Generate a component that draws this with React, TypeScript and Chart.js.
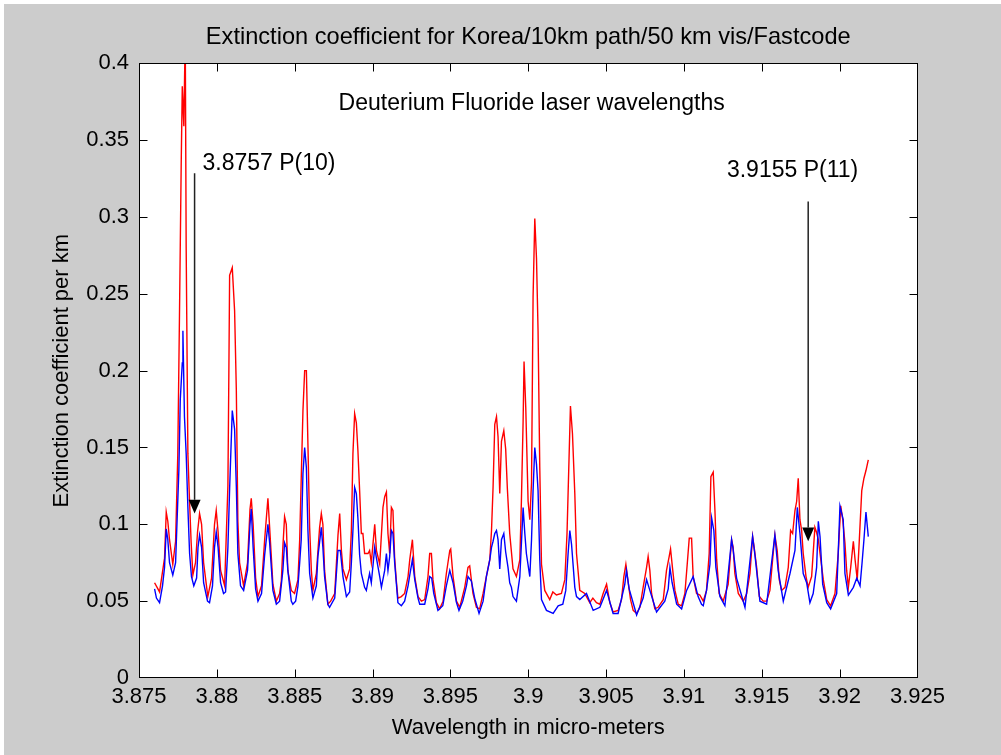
import React, { useEffect, useRef } from "react";
import { Chart, registerables } from "chart.js";

Chart.register(...registerables);

// ---- Data (wavelength in micro-meters, extinction coefficient per km) ----
const redWavelength = [
  3.876, 3.87632, 3.87664, 3.87675, 3.87685, 3.87696, 3.87717, 3.87735, 3.87749, 3.8776,
  3.87771, 3.87778, 3.87788, 3.87797, 3.87803, 3.87814, 3.87825, 3.87835, 3.87846, 3.87863,
  3.87876, 3.87889, 3.87902, 3.87915, 3.87942, 3.87966, 3.87985, 3.87996, 3.88008, 3.88024,
  3.8805, 3.88071, 3.88077, 3.88082, 3.88099, 3.88114, 3.88125, 3.88135, 3.88146, 3.88172,
  3.88197, 3.88213, 3.88221, 3.88233, 3.88249, 3.88264, 3.88287, 3.88307, 3.88328, 3.88339,
  3.8836, 3.88382, 3.88403, 3.88414, 3.88424, 3.88435, 3.88446, 3.88456, 3.88478, 3.88499,
  3.88521, 3.88532, 3.88542, 3.88553, 3.88564, 3.88575, 3.88585, 3.88596, 3.88607, 3.88617,
  3.88639, 3.8866, 3.88671, 3.88681, 3.88692, 3.88713, 3.88731, 3.88757, 3.88778, 3.88789,
  3.888, 3.8881, 3.88832, 3.88853, 3.88864, 3.88874, 3.88885, 3.88896, 3.88906, 3.88917,
  3.88928, 3.88938, 3.88949, 3.88971, 3.88981, 3.88992, 3.89014, 3.89025, 3.89046, 3.89067,
  3.89078, 3.89089, 3.89099, 3.8911, 3.89121, 3.89131, 3.89142, 3.89153, 3.89163, 3.89185,
  3.89206, 3.89228, 3.89239, 3.89256, 3.89271, 3.89292, 3.89314, 3.89335, 3.89356, 3.89367,
  3.89378, 3.89388, 3.8941, 3.89431, 3.89453, 3.89474, 3.89496, 3.89502, 3.89517, 3.89539,
  3.8956, 3.89592, 3.89613, 3.89624, 3.89645, 3.89667, 3.89688, 3.8971, 3.89731, 3.89753,
  3.89764, 3.89774, 3.89785, 3.89796, 3.89806, 3.89817, 3.89828, 3.89843, 3.89855, 3.89866,
  3.89881, 3.89902, 3.89924, 3.89946, 3.89956, 3.89967, 3.89973, 3.89984, 3.89999, 3.9001,
  3.90021, 3.90031, 3.90042, 3.90053, 3.90063, 3.90074, 3.90085, 3.90106, 3.90138, 3.90158,
  3.90181, 3.90213, 3.90235, 3.90249, 3.90262, 3.90271, 3.90284, 3.90299, 3.9031, 3.90331,
  3.90363, 3.90395, 3.90415, 3.90438, 3.9046, 3.90481, 3.90503, 3.90524, 3.90545, 3.90577,
  3.90599, 3.90614, 3.90627, 3.90642, 3.90657, 3.90674, 3.90696, 3.90717, 3.90738, 3.9076,
  3.9077, 3.90781, 3.90792, 3.90813, 3.90834, 3.90867, 3.90888, 3.90905, 3.90914, 3.90926,
  3.90942, 3.90963, 3.90985, 3.91006, 3.91021, 3.91034, 3.91049, 3.91059, 3.91081, 3.91102,
  3.91124, 3.91145, 3.91162, 3.91173, 3.91188, 3.91199, 3.9121, 3.91226, 3.91252, 3.91284,
  3.91306, 3.91316, 3.91327, 3.91349, 3.91381, 3.91403, 3.91424, 3.91441, 3.91451, 3.91467,
  3.91484, 3.91509, 3.91531, 3.91552, 3.91573, 3.91584, 3.91599, 3.91612, 3.91627, 3.91649,
  3.9167, 3.91685, 3.91698, 3.91713, 3.91724, 3.91734, 3.91745, 3.91756, 3.91766, 3.91784,
  3.91798, 3.9182, 3.91841, 3.91851, 3.91863, 3.91874, 3.91895, 3.91917, 3.91942, 3.9197,
  3.91991, 3.92007, 3.9202, 3.92034, 3.92045, 3.92056, 3.92071, 3.92088, 3.92099, 3.92113,
  3.92124, 3.92142, 3.92156, 3.92169, 3.92184,
];
const redExtinction = [
  0.062, 0.056, 0.078, 0.108, 0.102, 0.09, 0.074, 0.089, 0.145, 0.236,
  0.334, 0.385, 0.359, 0.42, 0.28, 0.146, 0.114, 0.088, 0.067, 0.075,
  0.095, 0.107, 0.1, 0.075, 0.053, 0.065, 0.1, 0.109, 0.095, 0.07,
  0.06, 0.125, 0.197, 0.262, 0.267, 0.239, 0.188, 0.102, 0.075, 0.06,
  0.075, 0.11, 0.117, 0.1, 0.065, 0.053, 0.06, 0.09, 0.117, 0.098,
  0.061, 0.05, 0.055, 0.063, 0.085, 0.105, 0.1, 0.07, 0.057, 0.055,
  0.064, 0.09, 0.13, 0.174, 0.2, 0.2, 0.152, 0.098, 0.07, 0.057,
  0.068, 0.098, 0.107, 0.1, 0.07, 0.048, 0.05, 0.055, 0.093, 0.107,
  0.083, 0.071, 0.064, 0.071, 0.096, 0.146, 0.172, 0.166, 0.148, 0.122,
  0.094, 0.094, 0.081, 0.081, 0.083, 0.075, 0.1, 0.083, 0.074, 0.111,
  0.118, 0.121, 0.094, 0.081, 0.111, 0.109, 0.078, 0.063, 0.052, 0.053,
  0.055, 0.066, 0.077, 0.09, 0.066, 0.053, 0.05, 0.051, 0.066, 0.081,
  0.081, 0.064, 0.049, 0.045, 0.05, 0.068, 0.083, 0.084, 0.066, 0.05,
  0.046, 0.059, 0.072, 0.073, 0.055, 0.046, 0.045, 0.055, 0.066, 0.077,
  0.096, 0.124, 0.165, 0.17, 0.157, 0.12, 0.154, 0.161, 0.149, 0.123,
  0.094, 0.071, 0.066, 0.077, 0.115, 0.167, 0.206, 0.176, 0.115, 0.103,
  0.127, 0.248, 0.299, 0.273, 0.226, 0.137, 0.074, 0.057, 0.051, 0.056,
  0.054, 0.055, 0.064, 0.094, 0.143, 0.177, 0.159, 0.12, 0.081, 0.057,
  0.055, 0.049, 0.052, 0.049, 0.048, 0.055, 0.061, 0.049, 0.043, 0.044,
  0.051, 0.066, 0.074, 0.062, 0.051, 0.044, 0.042, 0.046, 0.059, 0.072,
  0.079, 0.07, 0.055, 0.045, 0.046, 0.051, 0.07, 0.079, 0.084, 0.072,
  0.057, 0.048, 0.047, 0.055, 0.074, 0.091, 0.091, 0.066, 0.055, 0.054,
  0.05, 0.057, 0.081, 0.131, 0.134, 0.109, 0.077, 0.055, 0.05, 0.061,
  0.09, 0.085, 0.068, 0.055, 0.05, 0.055, 0.068, 0.092, 0.085, 0.072,
  0.053, 0.05, 0.05, 0.057, 0.081, 0.093, 0.083, 0.064, 0.057, 0.059,
  0.072, 0.096, 0.094, 0.109, 0.115, 0.13, 0.103, 0.096, 0.081, 0.066,
  0.059, 0.066, 0.098, 0.095, 0.09, 0.081, 0.064, 0.051, 0.047, 0.055,
  0.081, 0.112, 0.103, 0.088, 0.07, 0.059, 0.072, 0.089, 0.077, 0.064,
  0.085, 0.122, 0.13, 0.135, 0.142,
];

const blueWavelength = [
  3.876, 3.87612, 3.87632, 3.87651, 3.87664, 3.87675, 3.87685, 3.87696, 3.87717, 3.87735,
  3.87756, 3.87765, 3.87778, 3.87782, 3.87792, 3.87803, 3.87814, 3.87825, 3.87837, 3.87852,
  3.8787, 3.87879, 3.87889, 3.87902, 3.87915, 3.8794, 3.87953, 3.87972, 3.87985, 3.87996,
  3.88008, 3.88024, 3.88043, 3.88056, 3.88071, 3.88082, 3.88099, 3.88114, 3.88125, 3.88135,
  3.88152, 3.88172, 3.88197, 3.88213, 3.88221, 3.88233, 3.88249, 3.88264, 3.88287, 3.88307,
  3.88328, 3.88339, 3.8836, 3.88382, 3.88403, 3.88424, 3.88435, 3.88446, 3.88456, 3.88478,
  3.88488, 3.88506, 3.88521, 3.88532, 3.88542, 3.88553, 3.88564, 3.88575, 3.88585, 3.88596,
  3.88617, 3.88639, 3.88649, 3.88671, 3.88681, 3.88692, 3.88713, 3.88724, 3.88757, 3.88778,
  3.88793, 3.8881, 3.88832, 3.88853, 3.88864, 3.88874, 3.88885, 3.88896, 3.88906, 3.88917,
  3.88928, 3.88949, 3.8896, 3.88971, 3.88981, 3.88992, 3.89014, 3.89025, 3.89046, 3.89057,
  3.89078, 3.89089, 3.89099, 3.8911, 3.89121, 3.89131, 3.89142, 3.89163, 3.89185, 3.89206,
  3.89228, 3.89239, 3.89256, 3.89271, 3.89292, 3.89303, 3.89335, 3.89356, 3.89367, 3.8938,
  3.89393, 3.8942, 3.89451, 3.89474, 3.89496, 3.89517, 3.89539, 3.89555, 3.89579, 3.89603,
  3.89613, 3.89635, 3.89656, 3.89684, 3.8971, 3.89731, 3.89753, 3.89764, 3.89774, 3.89785,
  3.89796, 3.89806, 3.89817, 3.89828, 3.89843, 3.89855, 3.8987, 3.89881, 3.89892, 3.89902,
  3.89924, 3.89946, 3.89967, 3.89978, 3.89988, 3.9001, 3.90021, 3.90031, 3.90042, 3.90053,
  3.90063, 3.90074, 3.90085, 3.90117, 3.9016, 3.90192, 3.90222, 3.90241, 3.90256, 3.90267,
  3.90278, 3.90299, 3.9031, 3.90331, 3.90374, 3.90417, 3.9046, 3.90503, 3.90545, 3.90577,
  3.9062, 3.90631, 3.90648, 3.90696, 3.90738, 3.9076, 3.90781, 3.90824, 3.90877, 3.90899,
  3.9091, 3.90924, 3.90953, 3.90985, 3.91017, 3.91059, 3.91091, 3.91113, 3.91124, 3.91145,
  3.91167, 3.91178, 3.91192, 3.91205, 3.91231, 3.91263, 3.91306, 3.91314, 3.91338, 3.91392,
  3.91441, 3.91456, 3.91488, 3.91531, 3.91584, 3.91605, 3.91638, 3.91681, 3.91713, 3.91728,
  3.91745, 3.91766, 3.91788, 3.91809, 3.9183, 3.91852, 3.91863, 3.91874, 3.91891, 3.91917,
  3.91942, 3.91981, 3.92002, 3.92023, 3.92034, 3.92056, 3.92088, 3.9211, 3.92131, 3.92144,
  3.92156, 3.92169, 3.92184,
];
const blueExtinction = [
  0.058, 0.052, 0.049, 0.06, 0.072, 0.097, 0.09, 0.075, 0.067, 0.075,
  0.135, 0.181, 0.205, 0.226, 0.17, 0.146, 0.111, 0.081, 0.066, 0.06,
  0.065, 0.085, 0.093, 0.085, 0.062, 0.05, 0.049, 0.06, 0.085, 0.095,
  0.085, 0.062, 0.055, 0.056, 0.085, 0.123, 0.174, 0.162, 0.125, 0.081,
  0.06, 0.057, 0.07, 0.1, 0.11, 0.085, 0.058, 0.05, 0.055, 0.08,
  0.1, 0.088, 0.057, 0.048, 0.05, 0.07, 0.088, 0.085, 0.07, 0.05,
  0.048, 0.05, 0.06, 0.075, 0.09, 0.133, 0.15, 0.137, 0.096, 0.068,
  0.052, 0.06, 0.079, 0.098, 0.085, 0.066, 0.048, 0.046, 0.052, 0.083,
  0.083, 0.066, 0.053, 0.056, 0.075, 0.096, 0.124, 0.12, 0.104, 0.08,
  0.068, 0.059, 0.057, 0.063, 0.068, 0.062, 0.085, 0.078, 0.066, 0.059,
  0.07, 0.081, 0.07, 0.079, 0.096, 0.094, 0.075, 0.049, 0.047, 0.05,
  0.06, 0.067, 0.077, 0.064, 0.052, 0.048, 0.048, 0.058, 0.066, 0.065,
  0.055, 0.044, 0.047, 0.06, 0.07, 0.062, 0.049, 0.044, 0.05, 0.06,
  0.066, 0.063, 0.052, 0.042, 0.05, 0.066, 0.077, 0.085, 0.089, 0.094,
  0.096, 0.09, 0.071, 0.09, 0.094, 0.082, 0.072, 0.062, 0.059, 0.053,
  0.05, 0.066, 0.111, 0.094, 0.081, 0.066, 0.09, 0.122, 0.15, 0.139,
  0.122, 0.077, 0.051, 0.044, 0.042, 0.047, 0.048, 0.057, 0.081, 0.096,
  0.087, 0.059, 0.053, 0.051, 0.055, 0.044, 0.046, 0.057, 0.042, 0.042,
  0.061, 0.07, 0.058, 0.041, 0.052, 0.064, 0.057, 0.043, 0.05, 0.058,
  0.072, 0.062, 0.048, 0.045, 0.057, 0.066, 0.053, 0.048, 0.047, 0.057,
  0.074, 0.104, 0.096, 0.072, 0.053, 0.047, 0.09, 0.085, 0.065, 0.046,
  0.092, 0.08, 0.05, 0.048, 0.093, 0.07, 0.05, 0.068, 0.083, 0.111,
  0.094, 0.068, 0.062, 0.049, 0.055, 0.072, 0.102, 0.092, 0.061, 0.049,
  0.045, 0.055, 0.112, 0.103, 0.068, 0.054, 0.059, 0.065, 0.06, 0.075,
  0.09, 0.108, 0.092,
];

// Laser line markers: label, wavelength of the arrow, arrow top, arrow head top, arrow tip, label anchor
const markerLabels = ["3.8757 P(10)", "3.9155 P(11)"];
const markerWavelength = [3.87857, 3.91798];
const markerTop = [0.3285, 0.31];
const markerHeadTop = [0.116, 0.098];
const markerTip = [0.107, 0.089];
const markerLabelWavelength = [3.87908, 3.91276];
const markerLabelValue = [0.335, 0.33];

const noteText = "Deuterium Fluoride laser wavelengths";
const noteWavelength = 3.88782;
const noteValue = 0.374;

const titleText = "Extinction coefficient for Korea/10km path/50 km vis/Fastcode";
const xTitle = "Wavelength in micro-meters";
const yTitle = "Extinction coefficient per km";

const xMin = 3.875;
const xMax = 3.925;
const xStep = 0.005;
const yMin = 0;
const yMax = 0.4;
const yStep = 0.05;

const FONT = '"Liberation Sans", Arial, Helvetica, sans-serif';

const framePlugin = {
  id: "matlabFrame",
  beforeDraw(chart: any) {
    const { ctx, chartArea: a, width, height } = chart;
    ctx.save();
    ctx.fillStyle = "#ffffff";
    ctx.fillRect(0, 0, width, height);
    ctx.fillStyle = "#cccccc";
    ctx.fillRect(4, 4, width - 4, height - 4);
    ctx.fillStyle = "#ffffff";
    ctx.fillRect(a.left, a.top, a.right - a.left, a.bottom - a.top);
    ctx.restore();
  },
  afterDatasetsDraw(chart: any) {
    const { ctx, chartArea: a } = chart;
    const xs = chart.scales.x;
    const ys = chart.scales.y;
    ctx.save();
    // box
    ctx.strokeStyle = "#000000";
    ctx.lineWidth = 1;
    const L = Math.round(a.left) + 0.5;
    const R = Math.round(a.right) - 0.5;
    const T = Math.round(a.top) + 0.5;
    const B = Math.round(a.bottom) - 0.5;
    ctx.strokeRect(L, T, R - L, B - T);
    // inward ticks on all four sides
    const tl = 8;
    ctx.beginPath();
    xs.ticks.forEach((t: any) => {
      const p = Math.round(xs.getPixelForValue(t.value)) + 0.5;
      if (p <= L + 1 || p >= R - 1) return;
      ctx.moveTo(p, B);
      ctx.lineTo(p, B - tl);
      ctx.moveTo(p, T);
      ctx.lineTo(p, T + tl);
    });
    ys.ticks.forEach((t: any) => {
      const p = Math.round(ys.getPixelForValue(t.value)) + 0.5;
      if (p <= T + 1 || p >= B - 1) return;
      ctx.moveTo(L, p);
      ctx.lineTo(L + tl, p);
      ctx.moveTo(R, p);
      ctx.lineTo(R - tl, p);
    });
    ctx.stroke();

    // laser line arrows
    ctx.strokeStyle = "#222222";
    ctx.fillStyle = "#000000";
    ctx.lineWidth = 1.5;
    for (let i = 0; i < markerLabels.length; i++) {
      const px = xs.getPixelForValue(markerWavelength[i]);
      const top = ys.getPixelForValue(markerTop[i]);
      const head = ys.getPixelForValue(markerHeadTop[i]);
      const tip = ys.getPixelForValue(markerTip[i]);
      ctx.beginPath();
      ctx.moveTo(px, top);
      ctx.lineTo(px, head);
      ctx.stroke();
      ctx.beginPath();
      ctx.moveTo(px - 6, head);
      ctx.lineTo(px + 6, head);
      ctx.lineTo(px, tip);
      ctx.closePath();
      ctx.fill();
    }
    // texts
    ctx.fillStyle = "#000000";
    ctx.font = `23px ${FONT}`;
    ctx.textAlign = "left";
    ctx.textBaseline = "middle";
    for (let i = 0; i < markerLabels.length; i++) {
      ctx.fillText(
        markerLabels[i],
        xs.getPixelForValue(markerLabelWavelength[i]),
        ys.getPixelForValue(markerLabelValue[i])
      );
    }
    ctx.fillText(noteText, xs.getPixelForValue(noteWavelength), ys.getPixelForValue(noteValue));
    ctx.restore();
  },
};

function fmt(v: number, digits: number) {
  return String(Number(Number(v).toFixed(digits)));
}

export default function App() {
  const canvasRef = useRef<HTMLCanvasElement | null>(null);

  useEffect(() => {
    if (!canvasRef.current) return;
    const red = redWavelength.map((x, i) => ({ x, y: redExtinction[i] }));
    const blue = blueWavelength.map((x, i) => ({ x, y: blueExtinction[i] }));
    const chart = new Chart(canvasRef.current, {
      type: "line",
      data: {
        datasets: [
          {
            label: "blue",
            data: blue,
            borderColor: "#0000ff",
            borderWidth: 1.4,
            pointRadius: 0,
            tension: 0,
            fill: false,
            clip: 0,
          },
          {
            label: "red",
            data: red,
            borderColor: "#ff0000",
            borderWidth: 1.4,
            pointRadius: 0,
            tension: 0,
            fill: false,
            clip: 0,
          },
        ],
      },
      options: {
        responsive: false,
        animation: false,
        devicePixelRatio: 1,
        events: [],
        layout: { padding: { left: 0, top: 0, right: 83.5, bottom: 0 } },
        plugins: {
          legend: { display: false },
          tooltip: { enabled: false },
          title: {
            display: true,
            text: titleText,
            fullSize: false,
            color: "#000000",
            font: { family: FONT, size: 23.6, weight: "normal" },
            padding: { top: 23.8, bottom: 11.2 },
          },
        },
        scales: {
          x: {
            type: "linear",
            min: xMin,
            max: xMax,
            grid: { display: true, drawOnChartArea: false, drawTicks: false, color: "rgba(0,0,0,0)" },
            border: { display: false },
            ticks: {
              stepSize: xStep,
              autoSkip: false,
              maxRotation: 0,
              padding: 6,
              color: "#000000",
              font: { family: FONT, size: 22 },
              callback: (v: any) => fmt(v, 3),
            },
            title: {
              display: true,
              text: xTitle,
              color: "#000000",
              font: { family: FONT, size: 22 },
              padding: { top: 0, bottom: 13.8 },
            },
            afterFit: (s: any) => {
              s.height = 77;
            },
          },
          y: {
            type: "linear",
            min: yMin,
            max: yMax,
            grid: { display: true, drawOnChartArea: false, drawTicks: false, color: "rgba(0,0,0,0)" },
            border: { display: false },
            ticks: {
              stepSize: yStep,
              autoSkip: false,
              padding: 10,
              color: "#000000",
              font: { family: FONT, size: 22 },
              callback: (v: any) => fmt(v, 2),
            },
            title: {
              display: true,
              text: yTitle,
              color: "#000000",
              font: { family: FONT, size: 22 },
              padding: { top: 48.8, bottom: 0 },
            },
            afterFit: (s: any) => {
              s.width = 139;
            },
          },
        },
      },
      plugins: [framePlugin],
    } as any);
    return () => chart.destroy();
  }, []);

  return (
    <div style={{ position: "absolute", left: 0, top: 0, width: 1001, height: 755 }}>
      <canvas ref={canvasRef} width={1001} height={755} style={{ display: "block" }} />
    </div>
  );
}
